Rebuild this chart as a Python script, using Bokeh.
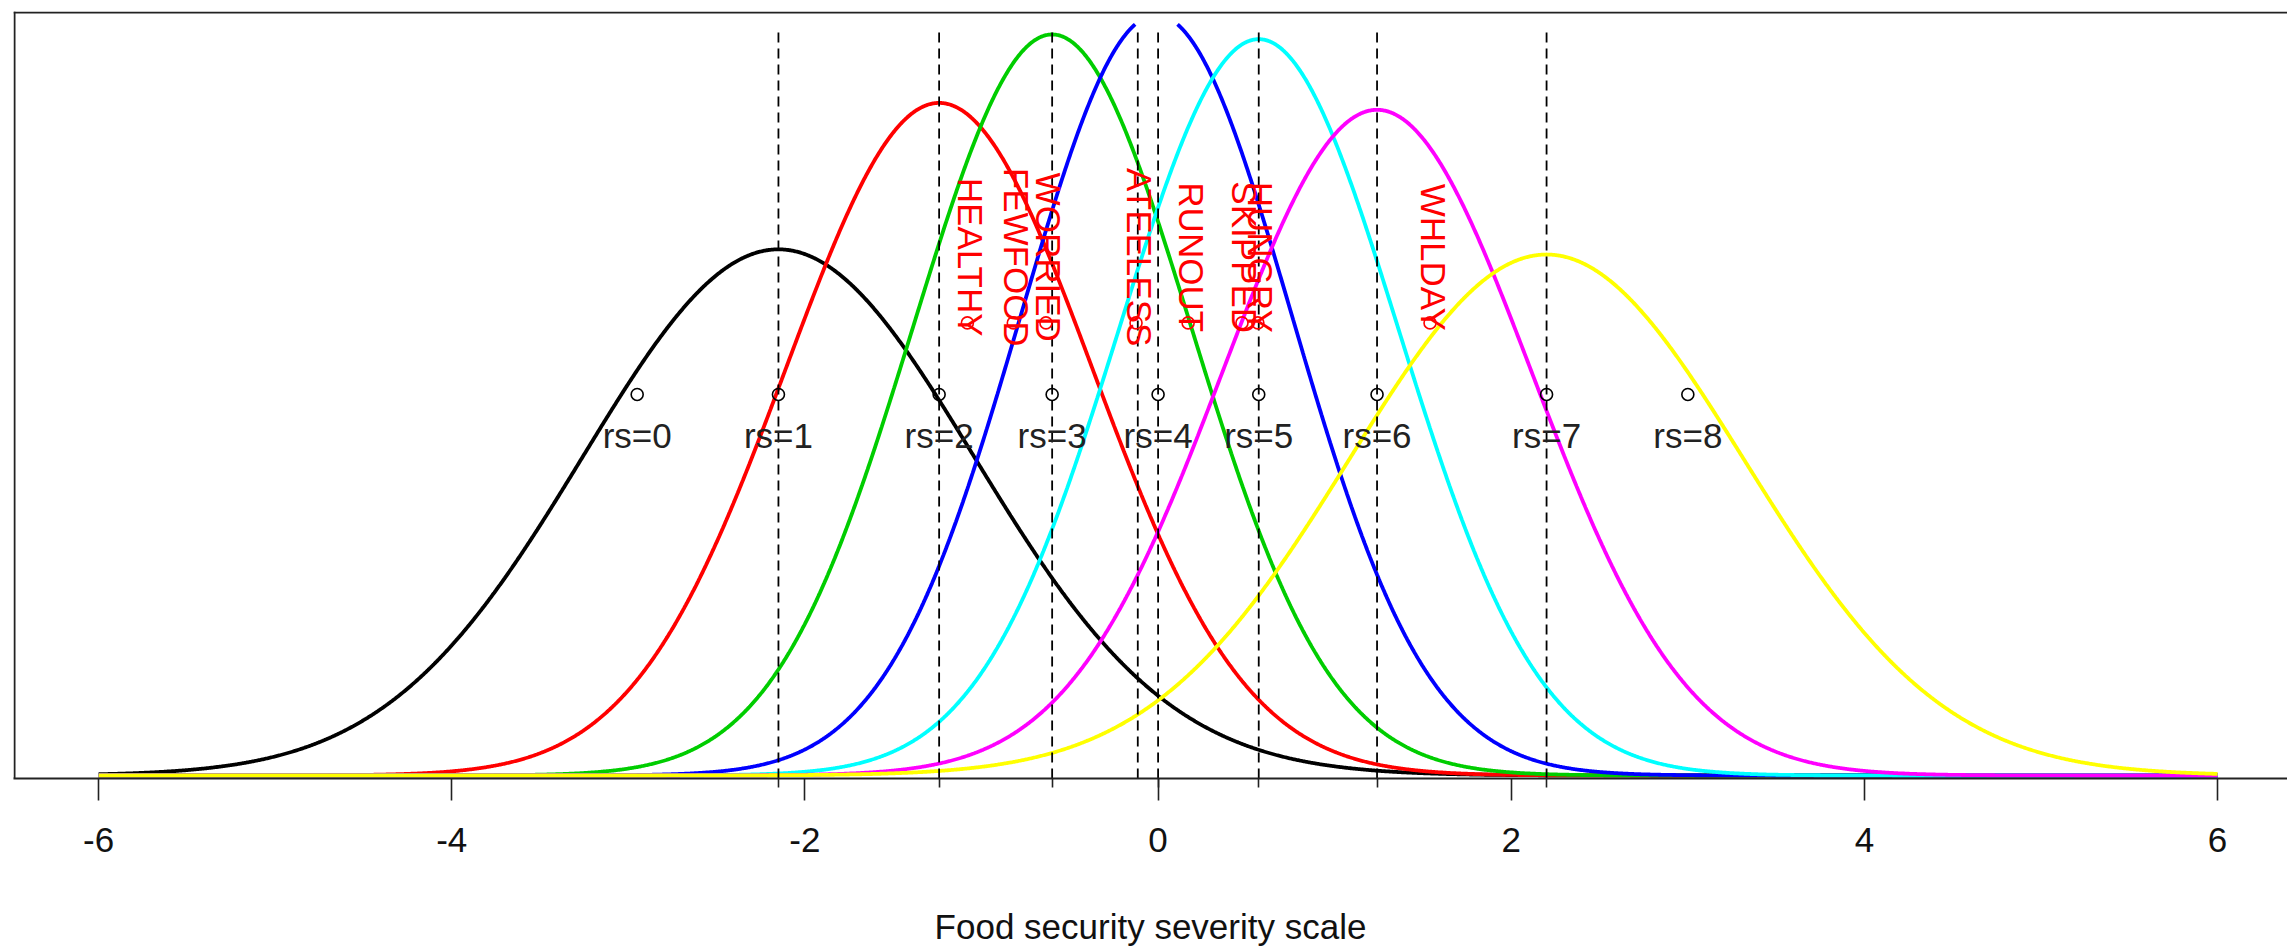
import numpy as np
from bokeh.plotting import figure
from bokeh.models import Range1d, FixedTicker, Span, ColumnDataSource
from bokeh.core.properties import value
from bokeh.embed import file_html
from bokeh.resources import INLINE

# ---------------- data ----------------
rs_labels = ["rs=0", "rs=1", "rs=2", "rs=3", "rs=4", "rs=5", "rs=6", "rs=7", "rs=8"]
rs_sev = [-2.95, -2.15, -1.24, -0.60, 0.00, 0.57, 1.24, 2.20, 3.00]

curve_mean = [-2.15, -1.24, -0.60, -0.01, 0.57, 1.24, 2.20]
curve_sd = [1.107, 0.866, 0.786, 0.766, 0.791, 0.875, 1.118]
curve_colors = ["#000000", "#FF0000", "#00CD00", "#0000FF", "#00FFFF", "#FF00FF", "#FFFF00"]

item_names = ["HEALTHY", "FEWFOOD", "WORRIED", "ATEELESS", "RUNOUT", "SKIPPED", "HUNGRY", "WHLDAY"]
item_sev = [-1.08, -0.82, -0.635, -0.125, 0.17, 0.475, 0.565, 1.54]

dash_x = [-2.15, -1.24, -0.60, -0.115, 0.00, 0.57, 1.24, 2.20]
rug_x = [-2.15, -1.24, -0.60, 0.00, 0.57, 1.24, 2.20]
x_ticks = [-6, -4, -2, 0, 2, 4, 6]
x_tick_labels = ["-6", "-4", "-2", "0", "2", "4", "6"]

# ---------------- layout constants ----------------
K = 1460.0                  # pixels per density unit
Y0 = -3.0 / K
Y1 = 764.0 / K
CLIP = 0.5147               # level where the tallest curve is cut
RS_Y = 0.261
ITEM_PT_Y = 0.31
ITEM_TXT_Y = 0.355
X0, X1 = -6.482, 6.396
FONT = value("Liberation Sans")

p = figure(frame_width=2274, frame_height=767, output_backend="svg", toolbar_location=None,
           x_range=Range1d(X0, X1), y_range=Range1d(Y0, Y1),
           min_border_left=13, min_border_right=0, min_border_top=11, min_border_bottom=0)
p.outline_line_color = None
p.grid.visible = False
p.yaxis.visible = False
p.background_fill_color = "white"
p.border_fill_color = "white"

xs = np.linspace(-6, 6, 2401)
for m, s, c in zip(curve_mean, curve_sd, curve_colors):
    ys = np.exp(-0.5 * ((xs - m) / s) ** 2) / (s * np.sqrt(2 * np.pi))
    ys = np.where(ys > CLIP, np.nan, ys)
    p.line(xs, ys, line_color=c, line_width=3.8)

p.segment(x0=dash_x, y0=[Y0] * len(dash_x), x1=dash_x, y1=[CLIP - 4.0 / K] * len(dash_x),
          line_color="black", line_width=1.8, line_dash="10 6")

# rs points and labels
rs_src = ColumnDataSource(dict(x=rs_sev, y=[RS_Y] * len(rs_sev), t=rs_labels))
p.scatter("x", "y", source=rs_src, marker="circle", size=12, fill_color=None,
          line_color="black", line_width=1.6)
p.text("x", "y", text="t", source=rs_src, text_font=FONT, text_font_size="35px",
       text_color="#222222", text_align="center", text_baseline="middle", y_offset=41)

# item points and labels
it_src = ColumnDataSource(dict(x=item_sev, y=[ITEM_PT_Y] * len(item_sev),
                               yt=[ITEM_TXT_Y] * len(item_sev), t=item_names))
p.scatter("x", "y", source=it_src, marker="circle", size=12, fill_color=None,
          line_color="#FF0000", line_width=1.6)
p.text("x", "yt", text="t", source=it_src, text_font=FONT, text_font_size="35px",
       text_color="#FF0000", text_align="center", text_baseline="alphabetic",
       angle=-np.pi / 2, x_offset=3)

# frame edges (top and left)
p.add_layout(Span(location=Y1 - 1.0 / K, dimension="width", line_color="#222222", line_width=2))
p.add_layout(Span(location=X0 + 1.0 / 176.58, dimension="height", line_color="#222222", line_width=2))

ax = p.xaxis[0]
ax.ticker = FixedTicker(ticks=x_ticks, minor_ticks=rug_x)
ax.major_label_overrides = {t: lab for t, lab in zip(x_ticks, x_tick_labels)}
ax.axis_line_color = "#222222"
ax.axis_line_width = 2
ax.major_tick_line_color = "#222222"
ax.major_tick_line_width = 1.6
ax.major_tick_out = 22
ax.major_tick_in = 0
ax.minor_tick_line_color = "#222222"
ax.minor_tick_line_width = 1.6
ax.minor_tick_out = 9
ax.minor_tick_in = 0
ax.major_label_standoff = 27
ax.major_label_text_font = "Liberation Sans"
ax.major_label_text_font_size = "35px"
ax.major_label_text_color = "#111111"
ax.axis_label = "Food security severity scale"
ax.axis_label_text_font = "Liberation Sans"
ax.axis_label_text_font_size = "35px"
ax.axis_label_text_font_style = "normal"
ax.axis_label_text_color = "#111111"
ax.axis_label_standoff = 52

open("out.html", "w").write(file_html(p, INLINE))
